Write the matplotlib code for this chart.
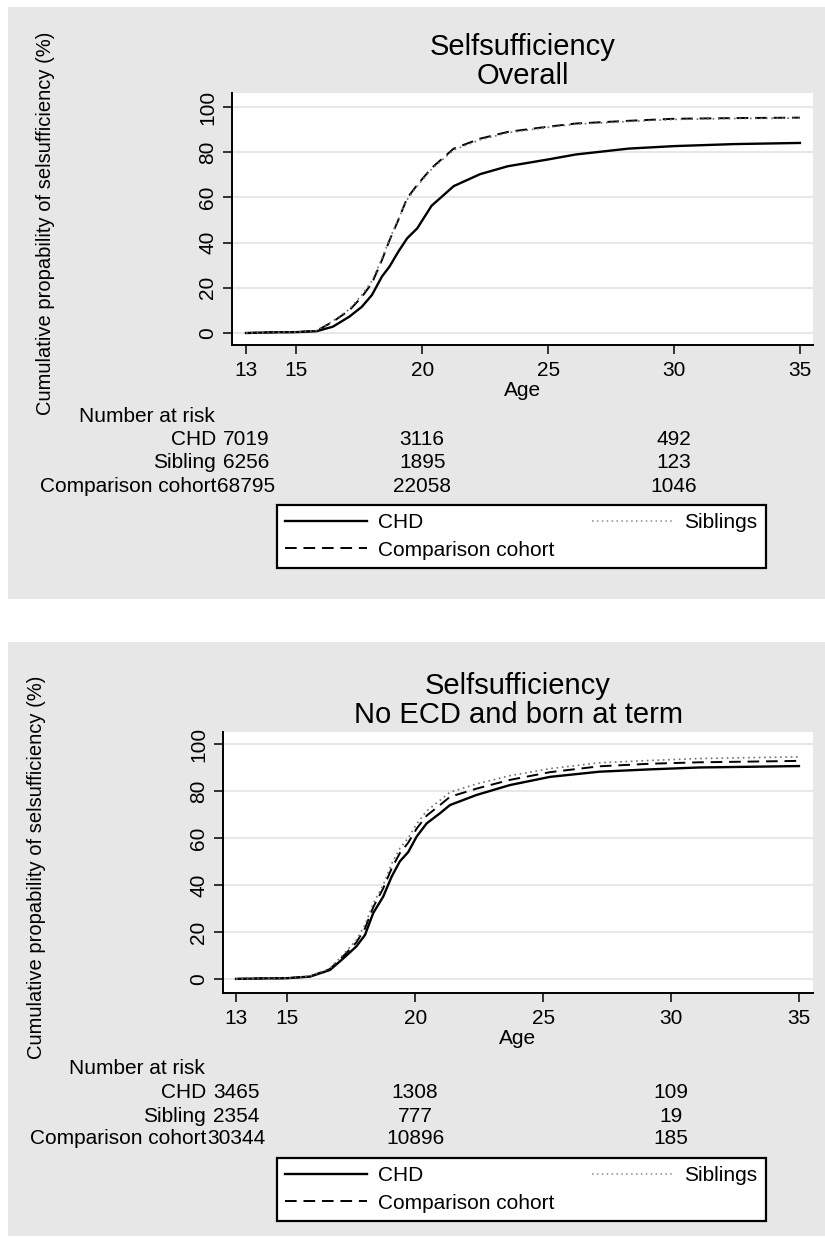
import matplotlib.pyplot as plt
from matplotlib.patches import Rectangle
from matplotlib.lines import Line2D

plt.rcParams['font.family'] = ['Liberation Sans', 'DejaVu Sans']
plt.rcParams['font.size'] = 15

W, H = 825, 1239  # output size in pixels

# ---- top panel: overall
age_overall = [13, 14, 15, 15.8, 16.45, 17.1, 17.6, 18.0, 18.4, 18.7, 19.05, 19.4,
               19.8, 20.37, 21.25, 22.3, 23.4, 25, 26.1, 28.2, 30, 32.4, 35]
chd_overall = [0, 0.3, 0.4, 0.8, 2.8, 7.2, 11.6, 16.8, 25, 29.4, 36, 41.9,
               46.3, 56.3, 65, 70.3, 73.8, 76.8, 79, 81.6, 82.7, 83.6, 84.1]
comp_overall = [0, 0.3, 0.4, 1, 5, 10, 16, 22, 32.3, 41, 50, 59.7,
                65.5, 73, 81.6, 86, 89, 91.3, 92.7, 93.9, 94.8, 95.1, 95.3]
sib_overall = [0, 0.3, 0.4, 1.1, 5.3, 10.5, 16.8, 23, 33, 41.5, 50.5, 59,
               65, 72.5, 81, 85.5, 88.6, 91, 92.4, 93.6, 94.5, 94.9, 95.1]

# ---- bottom panel: no ECD and born at term
age_term = [13, 14, 15, 15.9, 16.67, 17.2, 17.7, 18.04, 18.36, 18.75, 19.08, 19.4,
            19.73, 20.06, 20.45, 20.97, 21.36, 22.4, 23.7, 25.27, 27.2, 29.2, 31.1, 33.1, 35]
chd_term = [0, 0.2, 0.3, 1, 3.8, 8.8, 13.8, 18.7, 28, 35, 43.5, 50,
            54, 60.6, 66.2, 70.5, 74, 78.3, 82.5, 86, 88.2, 89.2, 90, 90.3, 90.6]
comp_term = [0, 0.2, 0.3, 1.1, 4.2, 9.8, 15.5, 21.5, 30.5, 38.5, 47, 53.5,
             58, 64, 69.5, 74, 77.5, 81, 84.7, 88, 90.5, 91.6, 92.2, 92.5, 92.8]
sib_term = [0, 0.2, 0.3, 1.2, 4.5, 10.5, 16.5, 23, 32, 40, 49, 55.5,
            60, 66, 71.5, 76, 79.5, 83, 86.5, 89.5, 92, 93, 93.8, 94.2, 94.5]

# ---- number at risk
risk_ages = [13, 20, 30]
risk_groups = ['CHD', 'Sibling', 'Comparison cohort']
risk_chd_overall = [7019, 3116, 492]
risk_sib_overall = [6256, 1895, 123]
risk_comp_overall = [68795, 22058, 1046]
risk_chd_term = [3465, 1308, 109]
risk_sib_term = [2354, 777, 19]
risk_comp_term = [30344, 10896, 185]

x_ticks = [13, 15, 20, 25, 30, 35]
y_ticks = [0, 20, 40, 60, 80, 100]

BG = '#e7e7e7'


def fx(px):
    return px / W


def fy(py):
    return 1 - py / H


def pt(px):
    return px * 72 / 100


fig = plt.figure(figsize=(W / 100, H / 100), dpi=100)

panels = [
    dict(bg=(7, 599), box=(232, 813, 93, 345), xlim=(12.444, 35.52), ylim=(-5.3, 106.2),
         ylx=45, tab=[72, 95, 117.6, 142], leg_top=160,
         sub='Overall', age=age_overall, chd=chd_overall, comp=comp_overall,
         sib=sib_overall, risk=[risk_chd_overall, risk_sib_overall, risk_comp_overall]),
    dict(bg=(642, 1236), box=(223, 813, 732, 993), xlim=(12.49, 35.55), ylim=(-6.0, 105.1),
         ylx=37, tab=[75, 100, 123, 146], leg_top=165,
         sub='No ECD and born at term', age=age_term, chd=chd_term, comp=comp_term,
         sib=sib_term, risk=[risk_chd_term, risk_sib_term, risk_comp_term]),
]

for p in panels:
    top, bot = p['bg']
    fig.patches.append(Rectangle((fx(8), fy(bot)), fx(825 - 8), (bot - top) / H,
                                 transform=fig.transFigure, facecolor=BG,
                                 edgecolor='none', zorder=-5))

    l, r, t, b = p['box']
    ax = fig.add_axes([fx(l), fy(b), fx(r - l), (b - t) / H])
    ax.set_facecolor('white')

    ax.plot(p['age'], p['chd'], color='black', lw=1.7, ls='-')
    ax.plot(p['age'], p['comp'], color='black', lw=1.4, ls=(0, (6, 3.5)))
    ax.plot(p['age'], p['sib'], color='#707070', lw=1.2, ls=(0, (1, 2.2)))

    ax.set_xlim(*p['xlim'])
    ax.set_ylim(*p['ylim'])
    ax.set_xticks(x_ticks)
    ax.set_yticks(y_ticks)
    ax.yaxis.grid(True, color='#e8e8e8', lw=1.5)
    ax.set_axisbelow(True)
    for s in ['top', 'right']:
        ax.spines[s].set_visible(False)
    for s in ['left', 'bottom']:
        ax.spines[s].set_linewidth(1.4)
    ax.tick_params(axis='both', length=6.5, width=1.1, labelsize=15)
    ax.tick_params(axis='x', pad=5)
    ax.tick_params(axis='y', pad=4, labelrotation=90)
    for lab in ax.get_yticklabels():
        lab.set_va('center')

    ax.set_xlabel('Age', fontsize=15)
    ax.xaxis.set_label_coords(0.5, -46 / (b - t))
    ax.xaxis.label.set_va('center')
    ax.set_ylabel('Cumulative propability of selsufficiency (%)', fontsize=14.5)
    ax.yaxis.set_label_coords(-(l - p['ylx']) / (r - l), 0.482)
    ax.yaxis.label.set_va('center')

    ax.text(0.5, (b - t + 46) / (b - t), 'Selfsufficiency', transform=ax.transAxes,
            ha='center', va='center', fontsize=21)
    ax.text(0.5, (b - t + 17) / (b - t), p['sub'], transform=ax.transAxes,
            ha='center', va='center', fontsize=21)

    # number at risk table
    tab = p['tab']
    ax.annotate('Number at risk', xy=(13, fy(b + tab[0])), xycoords=('data', 'figure fraction'),
                xytext=(pt(-167), 0), textcoords='offset points',
                ha='left', va='center', annotation_clip=False)
    for grp, counts, dy in zip(risk_groups, p['risk'], tab[1:]):
        ax.annotate(grp, xy=(13, fy(b + dy)), xycoords=('data', 'figure fraction'),
                    xytext=(pt(-30), 0), textcoords='offset points',
                    ha='right', va='center', annotation_clip=False)
        for a, n in zip(risk_ages, counts):
            ax.annotate(str(n), xy=(a, fy(b + dy)), xycoords=('data', 'figure fraction'),
                        ha='center', va='center', annotation_clip=False)

    handles = [
        Line2D([], [], color='black', lw=1.7, ls='-'),
        Line2D([], [], color='black', lw=1.4, ls=(0, (6, 3.5))),
        Line2D([], [], color='#8a8a8a', lw=1.1, ls=(0, (1, 2.2))),
    ]
    labels = ['CHD', 'Comparison cohort', 'Siblings']
    lt = b + p['leg_top']
    leg = fig.legend(handles, labels, ncol=2, mode='expand', loc='upper left',
                     bbox_to_anchor=(fx(277), fy(lt + 66), fx(766 - 277), 66 / H),
                     borderaxespad=0, borderpad=0.4, handlelength=3.9, handletextpad=0.55,
                     labelspacing=0.4, fancybox=False, framealpha=1, fontsize=15)
    leg.get_frame().set_edgecolor('black')
    leg.get_frame().set_linewidth(1.6)

fig.savefig('out.png', dpi=100)
